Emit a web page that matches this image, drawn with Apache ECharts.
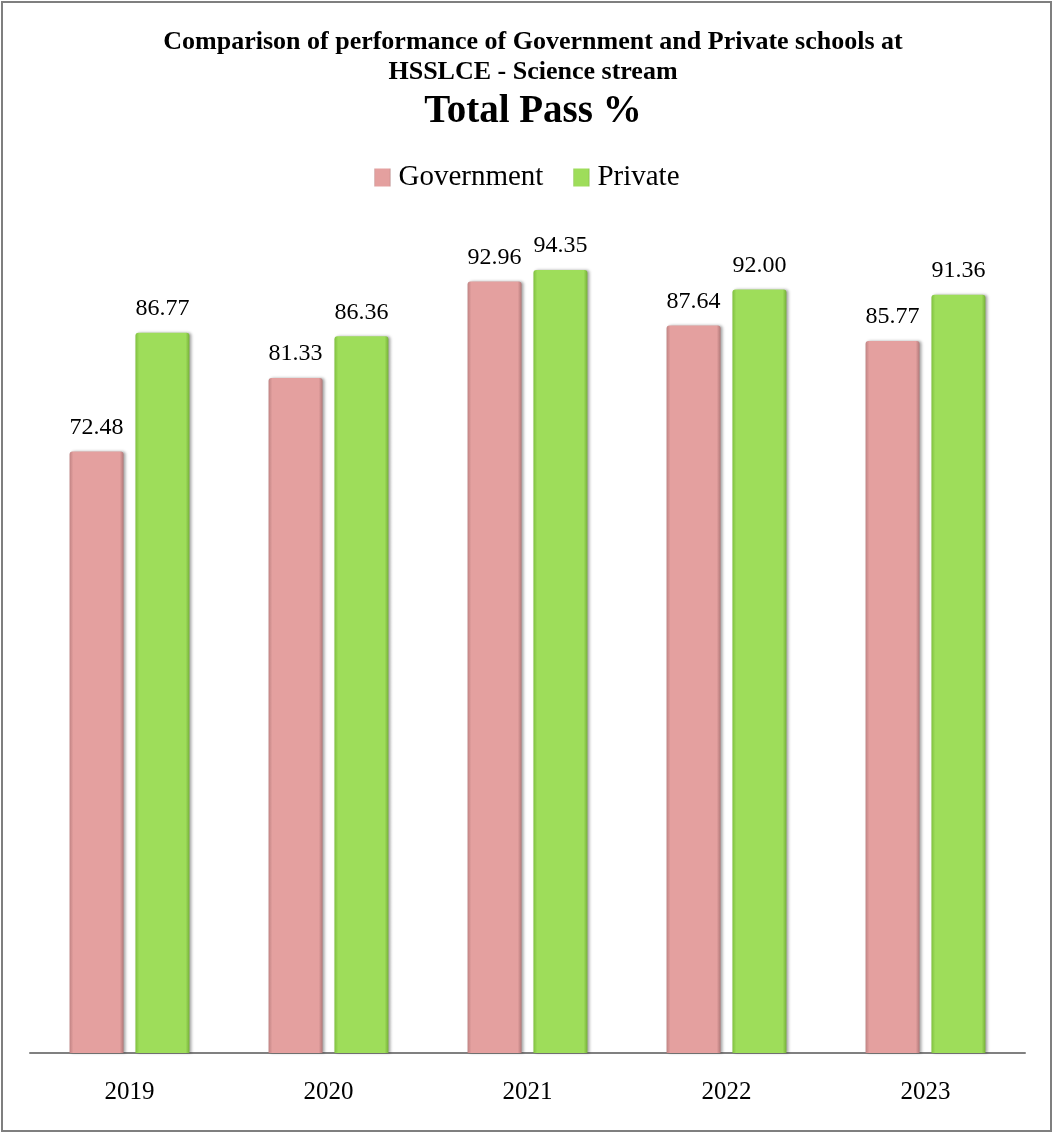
<!DOCTYPE html>
<html>
<head>
<meta charset="utf-8">
<script src="https://cdn.jsdelivr.net/npm/echarts@6/dist/echarts.min.js"></script>
<style>
html,body{margin:0;padding:0;background:#fff;}
#chart{width:1054px;height:1133px;}
</style>
</head>
<body>
<div id="chart"></div>
<script>
const categories = ['2019', '2020', '2021', '2022', '2023'];
const government = [72.48, 81.33, 92.96, 87.64, 85.77];
const privateSchools = [86.77, 86.36, 94.35, 92.00, 91.36];
const seriesNames = ['Government', 'Private'];
const titleText = 'Comparison of performance of Government and Private schools at\nHSSLCE - Science stream';
const subTitleText = 'Total Pass %';

const FONT = '"Liberation Serif", "Times New Roman", serif';

function grad(edgeL, body, edgeR) {
  return new echarts.graphic.LinearGradient(0, 0, 1, 0, [
    {offset: 0, color: edgeL},
    {offset: 0.07, color: body},
    {offset: 0.93, color: body},
    {offset: 1, color: edgeR}
  ]);
}

const chart = echarts.init(document.getElementById('chart'));
chart.setOption({
  animation: false,
  backgroundColor: '#ffffff',
  graphic: [{
    type: 'rect',
    shape: {x: 2, y: 2, width: 1049, height: 1129},
    style: {fill: 'none', stroke: '#7f7f7f', lineWidth: 2},
    silent: true
  }],
  title: [{
    text: titleText,
    left: 528,
    top: 22,
    textAlign: 'center',
    textStyle: {fontFamily: FONT, fontSize: 26, fontWeight: 'bold', color: '#000', lineHeight: 30}
  }, {
    text: subTitleText,
    left: 528,
    top: 85,
    textAlign: 'center',
    textStyle: {fontFamily: FONT, fontSize: 39, fontWeight: 'bold', color: '#000', lineHeight: 44}
  }],
  legend: {
    data: seriesNames,
    top: 158,
    left: 'center',
    icon: 'rect',
    itemWidth: 16,
    itemHeight: 18,
    itemGap: 30,
    textStyle: {fontFamily: FONT, fontSize: 29, color: '#000', padding: [0, 0, 0, 3]}
  },
  grid: {left: 30, right: 29, top: 223, bottom: 80},
  xAxis: {
    type: 'category',
    data: categories,
    axisTick: {show: false},
    axisLine: {lineStyle: {color: '#808080', width: 2}},
    axisLabel: {fontFamily: FONT, fontSize: 25, color: '#000', margin: 27}
  },
  yAxis: {
    type: 'value',
    min: 0,
    max: 100,
    show: false,
    splitLine: {show: false}
  },
  series: [{
    name: seriesNames[0],
    type: 'bar',
    data: government,
    barWidth: 54,
    barGap: '22%',
    itemStyle: {
      color: grad('#c08383', '#e4a09f', '#b07878'),
      borderRadius: [3, 3, 0, 0],
      shadowColor: 'rgba(0,0,0,0.35)',
      shadowBlur: 3,
      shadowOffsetX: 2
    },
    label: {
      show: true, position: 'top', distance: 12,
      fontFamily: FONT, fontSize: 24, color: '#000',
      formatter: p => p.value.toFixed(2)
    }
  }, {
    name: seriesNames[1],
    type: 'bar',
    data: privateSchools,
    barWidth: 54,
    itemStyle: {
      color: grad('#80c040', '#9edd5a', '#76b038'),
      borderRadius: [3, 3, 0, 0],
      shadowColor: 'rgba(0,0,0,0.35)',
      shadowBlur: 3,
      shadowOffsetX: 2
    },
    label: {
      show: true, position: 'top', distance: 12,
      fontFamily: FONT, fontSize: 24, color: '#000',
      formatter: p => p.value.toFixed(2)
    }
  }]
});
</script>
</body>
</html>
